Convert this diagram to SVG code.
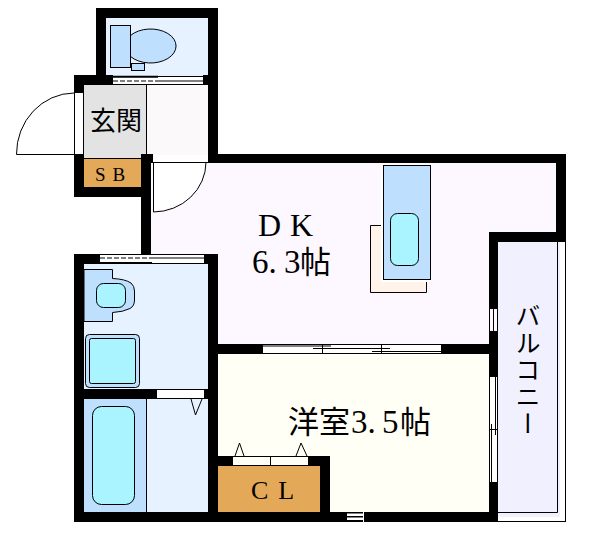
<svg xmlns="http://www.w3.org/2000/svg" width="600" height="558" viewBox="0 0 600 558">
<style>
.w{fill:#000}
.l{fill:none;stroke:#000;stroke-width:1}
.h{fill:none;stroke:#000;stroke-width:2}
.s{stroke:#000;stroke-width:1}
.t{font-family:"Noto Sans CJK JP","Liberation Serif",serif;fill:#000}
.r{font-family:"Liberation Serif","Noto Sans CJK JP",serif;fill:#000}
</style>
<rect width="600" height="558" fill="#fff"/>
<g id="floors">
<rect x="106" y="18" width="102" height="58" fill="#e6f2ff"/>
<rect x="84" y="85" width="62" height="74" fill="#e3e3e3"/>
<rect x="147" y="85" width="61" height="70" fill="#fbf9f9"/>
<rect x="84" y="159" width="58" height="28" fill="#e3a858"/>
<rect x="151" y="163" width="405" height="182" fill="#fdf8ff"/>
<rect x="141" y="254" width="77" height="98" fill="#fff"/>
<rect x="218" y="354" width="272" height="158" fill="#fffff6"/>
<rect x="84" y="264" width="124" height="126" fill="#e6f2ff"/>
<rect x="147" y="399" width="61" height="113" fill="#e6f2ff"/>
<rect x="84" y="399" width="62" height="113" fill="#bfdfff"/>
<rect x="218" y="466" width="102" height="46" fill="#e3a858"/>
<rect x="498" y="242" width="62" height="275" fill="#f0f0ff"/>
</g>
<g id="walls" class="w">
<rect x="96" y="8" width="122" height="10"/>
<rect x="96" y="8" width="10" height="77"/>
<rect x="208" y="8" width="10" height="154"/>
<rect x="74" y="75" width="39" height="10"/>
<rect x="203" y="75" width="5" height="10"/>
<rect x="74" y="75" width="10" height="18"/>
<rect x="74" y="154" width="10" height="43"/>
<rect x="74" y="187" width="77" height="10"/>
<rect x="141" y="154" width="12" height="9"/>
<rect x="141" y="154" width="10" height="100"/>
<rect x="209" y="154" width="357" height="9"/>
<rect x="556" y="154" width="10" height="88"/>
<rect x="489" y="232" width="77" height="10"/>
<rect x="489" y="232" width="9" height="77"/>
<rect x="489" y="331" width="9" height="46"/>
<rect x="489" y="482" width="9" height="40"/>
<rect x="74" y="254" width="26" height="10"/>
<rect x="204" y="254" width="14" height="10"/>
<rect x="74" y="254" width="10" height="268"/>
<rect x="208" y="254" width="10" height="268"/>
<rect x="74" y="512" width="424" height="10"/>
<rect x="84" y="389" width="73" height="10"/>
<rect x="204" y="389" width="14" height="10"/>
<rect x="218" y="344" width="45" height="10"/>
<rect x="441" y="344" width="48" height="10"/>
<rect x="218" y="456" width="15" height="10"/>
<rect x="308" y="456" width="22" height="10"/>
<rect x="320" y="456" width="10" height="66"/>
<rect x="347" y="513.500" width="16" height="2.500" fill="#fff"/>
<rect x="347" y="517.500" width="16" height="2.500" fill="#fff"/>
<rect x="363" y="512" width="1" height="10" fill="#fff"/>
</g>
<g id="connectors">
<path class="l" d="M74.500 93V154.500M83.500 93V154M74 154.500H16.500M16.500 154.500A58 61 0 0 1 74 93"/>
<path d="M153.500 162.500V212A53 50 0 0 0 206 162.500Z" fill="#fff" stroke="none"/>
<path class="l" d="M153.500 162V212M153.500 212A53 50 0 0 0 206 162M153 162.500H209"/>
<path class="l" d="M158 76.500H203M113 84.500H203M158 81H203"/>
<path class="h" d="M113 76.800H158"/>
<path class="l" stroke-dasharray="5 2" d="M113 81H158"/>
<path class="l" d="M100 254.500H204M100 263.500H204M152 258H204"/>
<path class="h" d="M100 263H152"/>
<path class="l" stroke-dasharray="5 2" d="M100 258H152"/>
<path class="l" d="M263 344.500H441M263 353.500H441M263 346H331M313 348.500H390M372 351.500H441M322.500 344V353M381.500 344V353"/>
<path class="l" d="M489.500 309V331M493.500 309V331M497.500 309V331M489.500 377V482M497.500 377V482M491.500 424V482M495.500 377V435M489 429.500H498"/>
<path class="l" d="M157 389.500H204M157 398.500H204M191 399L195.500 415L202 399"/>
<path class="l" d="M233 456.500H308M233 465.500H308M270.500 456V466M235 456L239.500 443L244 456M296 456L301 443L307 456"/>
<path class="l" d="M557.500 242V512.500M498 512.500H557.500M498 521.500H566M565.500 242V522"/>
<path class="l" d="M146.500 85V158.500M84 158.500H141M146.500 399V512"/>
</g>
<g id="toilet">
<path d="M130.500 35.500A25.500 17 0 1 1 130.500 56.500Z" fill="#bfdfff" class="s"/>
<rect x="110.500" y="25.500" width="20" height="42" fill="#bfdfff" class="s"/>
<rect x="131.500" y="63.500" width="13" height="7" fill="#bfdfff" class="s"/>
</g>
<g id="sink">
<path d="M84 269.500H112.500V278.500Q125 279 131 283Q134.500 286 134.500 291V300Q134.500 306 130 308.500Q123 312 112.500 312.500V321.500H84Z" fill="#bfdfff" class="s"/>
<rect x="96.500" y="283.500" width="29" height="24" rx="7" fill="#aaf4ff" class="s"/>
<rect x="85.500" y="334.500" width="54" height="53" rx="4" fill="#bfdfff" class="s"/>
<rect x="89.500" y="338.500" width="46" height="45" rx="2" fill="#aaf4ff" class="s"/>
</g>
<g id="bath">
<rect x="92.500" y="406.500" width="42" height="98" rx="9" fill="#aaf4ff" class="s"/>
</g>
<g id="kitchen">
<path d="M426.500 292.500H370.500V225.500H427V281H426.500Z" fill="#fff3ea" stroke="#000"/>
<path d="M382 226H428V281H382Z" fill="#fdf8ff"/>
<rect x="381" y="164" width="50" height="118" fill="#fff"/>
<path d="M427 226V281" stroke="#fdf8ff" fill="none"/>
<rect x="383.500" y="165.500" width="47" height="114" fill="#bfdfff" class="s"/>
<rect x="390.500" y="213.500" width="28" height="52" rx="7" fill="#aaf4ff" class="s"/>
</g>
<g id="label-genkan"><text class="t" x="90" y="130" font-size="26">玄関</text></g>
<g id="label-sb"><text class="r" x="95" y="181" font-size="19" letter-spacing="7">SB</text></g>
<g id="label-dk"><text class="r" x="258" y="236" font-size="32" letter-spacing="9">DK</text></g>
<g id="label-dk-size"><text class="r" x="252" y="273" font-size="33">6.<tspan x="284">3</tspan><tspan class="t" x="300" font-size="31">帖</tspan></text></g>
<g id="label-room"><text class="t" x="288" y="433" font-size="31">洋室<tspan class="r" font-size="33" x="351">3.</tspan><tspan class="r" font-size="33" x="382">5</tspan><tspan x="400">帖</tspan></text></g>
<g id="label-cl"><text class="r" x="251" y="499" font-size="26" letter-spacing="10">CL</text></g>
<g id="label-balcony"><text class="t" x="528" y="303" font-size="25" writing-mode="vertical-rl" letter-spacing="2">バルコニー</text></g>
</svg>
